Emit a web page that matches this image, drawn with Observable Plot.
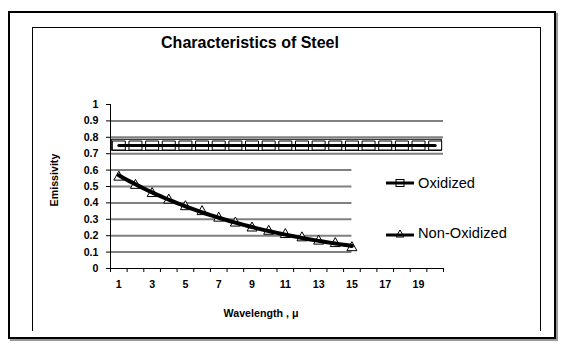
<!DOCTYPE html>
<html><head><meta charset="utf-8">
<script src="https://cdn.jsdelivr.net/npm/d3@7"></script>
<script src="https://cdn.jsdelivr.net/npm/@observablehq/plot@0.6"></script>
<style>
body{margin:0;background:#fff;font-family:Arial,"Liberation Sans",sans-serif;}
#wrap{position:relative;width:568px;height:347px;overflow:hidden;background:#fff;}
#wrap svg.chart{position:absolute;left:0;top:0;}
.outer{position:absolute;left:8px;top:11px;width:544px;height:324px;border:2px solid #000;box-shadow:2px 2px 0 #999;}
.inner{position:absolute;left:32px;top:27px;width:507px;height:303px;border:1px solid #000;border-bottom:none;}
.title{position:absolute;left:150px;width:200px;top:35px;text-align:center;font-weight:bold;font-size:16px;line-height:16px;}
.xlab{position:absolute;left:200px;width:122px;top:307px;text-align:center;font-weight:bold;font-size:10.67px;line-height:12px;}
.ylab{position:absolute;left:24px;width:60px;top:174px;text-align:center;font-weight:bold;font-size:10.67px;line-height:12px;transform:rotate(-90deg);}
.leg{position:absolute;left:385px;height:16px;display:flex;align-items:center;font-size:14.67px;line-height:16px;}
.leg svg{margin-right:3px;}
</style></head>
<body><div id="wrap"></div>
<script>
// ---- data ----
const wavelength = [1,2,3,4,5,6,7,8,9,10,11,12,13,14,15,16,17,18,19,20];
const oxidized = [0.75,0.75,0.75,0.75,0.75,0.75,0.75,0.75,0.75,0.75,0.75,0.75,0.75,0.75,0.75,0.75,0.75,0.75,0.75,0.75];
const nonOxidized = [0.56,0.51,0.46,0.42,0.38,0.35,0.31,0.28,0.25,0.23,0.21,0.19,0.17,0.155,0.13];
const xTickLabels = [1,3,5,7,9,11,13,15,17,19];
const yTicks = [0,0.1,0.2,0.3,0.4,0.5,0.6,0.7,0.8,0.9,1];
const seriesNames = ["Oxidized","Non-Oxidized"];

const oxData = wavelength.map((w,i)=>({x:w,y:oxidized[i]}));
const nonData = nonOxidized.map((v,i)=>({x:wavelength[i],y:v}));
const xDomain = [wavelength[0]-0.5, wavelength[wavelength.length-1]+0.5];
const boundaries = d3.range(xDomain[0], xDomain[1]+0.01, 1);
const legendCut = wavelength[nonOxidized.length-1];

// exponential trend line (least squares on log values) for Non-Oxidized
const n = nonData.length;
const mx = d3.mean(nonData,d=>d.x), ml = d3.mean(nonData,d=>Math.log(d.y));
const b = d3.sum(nonData,d=>(d.x-mx)*(Math.log(d.y)-ml))/d3.sum(nonData,d=>(d.x-mx)**2);
const a = Math.exp(ml - b*mx);
const trend = d3.range(nonData[0].x, nonData[n-1].x+0.001, 0.25).map(x=>({x,y:a*Math.exp(b*x)}));

const rectSym = {draw(ctx){ctx.moveTo(-6.5,-4.5);ctx.lineTo(6.5,-4.5);ctx.lineTo(6.5,4.5);ctx.lineTo(-6.5,4.5);ctx.closePath();}};
const triSym = {draw(ctx){ctx.moveTo(0,-5.5);ctx.lineTo(5,3.5);ctx.lineTo(-5,3.5);ctx.closePath();}};

const bold = {fontWeight:"bold", fontSize:10.67, fill:"#000"};
const chart = Plot.plot({
  width:568, height:347,
  marginLeft:110, marginRight:125, marginTop:104, marginBottom:79,
  style:{background:"transparent", fontFamily:"Arial, 'Liberation Sans', sans-serif", fontSize:"10.67px", color:"#000"},
  x:{domain:xDomain, label:null},
  y:{domain:[0,1], label:null},
  marks:[
    Plot.ruleY(yTicks.filter(v=>v>0.65 && v<1), {y:d=>d, x1:xDomain[0], x2:xDomain[1], stroke:"#808080", strokeWidth:2}),
    Plot.ruleY(yTicks.filter(v=>v>0 && v<0.65), {y:d=>d, x1:xDomain[0], x2:legendCut, stroke:"#808080", strokeWidth:2}),
    Plot.rect([{x1:d3.min(oxData,d=>d.x)-0.4, x2:d3.max(oxData,d=>d.x)+0.4, y1:d3.min(oxData,d=>d.y)-0.033, y2:d3.max(oxData,d=>d.y)+0.035}],
      {x1:"x1",x2:"x2",y1:"y1",y2:"y2", fill:"none", stroke:"#000", strokeWidth:1}),
    Plot.dot(oxData, {x:"x", y:"y", symbol:rectSym, r:5, fill:"#fff", stroke:"#000", strokeWidth:1}),
    Plot.line(oxData, {x:"x", y:"y", stroke:"#000", strokeWidth:3}),
    Plot.dot(nonData, {x:"x", y:"y", symbol:triSym, r:5, fill:"#fff", stroke:"#000", strokeWidth:1}),
    Plot.line(trend, {x:"x", y:"y", stroke:"#000", strokeWidth:4, curve:"linear"}),
    Plot.ruleX([xDomain[0]], {y1:0, y2:1, stroke:"#000", strokeWidth:1}),
    Plot.ruleY([0], {x1:xDomain[0], x2:xDomain[1], stroke:"#000", strokeWidth:1}),
    Plot.axisY(yTicks, {anchor:"left", tickSize:4, tickPadding:8, tickFormat:d=>d3.format("~g")(d), ...bold}),
    Plot.axisX(boundaries, {anchor:"bottom", tickSize:4, tickFormat:()=>""}),
    Plot.axisX(xTickLabels, {anchor:"bottom", tickSize:0, tickPadding:12, tickFormat:d=>String(d), ...bold})
  ]
});
chart.classList.add("chart");
const wrap = document.getElementById("wrap");
wrap.appendChild(chart);
wrap.insertAdjacentHTML("beforeend", `
<div class="outer"></div><div class="inner"></div>
<div class="title">Characteristics of Steel</div>
<div class="xlab">Wavelength , μ</div>
<div class="ylab">Emissivity</div>
<div class="leg" style="top:175px"><svg width="30" height="12"><line x1="1" y1="6" x2="29" y2="6" stroke="#000" stroke-width="3"/><rect x="11" y="2.5" width="8" height="7" fill="none" stroke="#000"/></svg>${seriesNames[0]}</div>
<div class="leg" style="top:225px"><svg width="30" height="12"><line x1="1" y1="8" x2="29" y2="8" stroke="#000" stroke-width="3"/><path d="M15,3 L19,10 L11,10 Z" fill="none" stroke="#000"/></svg>${seriesNames[1]}</div>
`);
</script></body></html>
